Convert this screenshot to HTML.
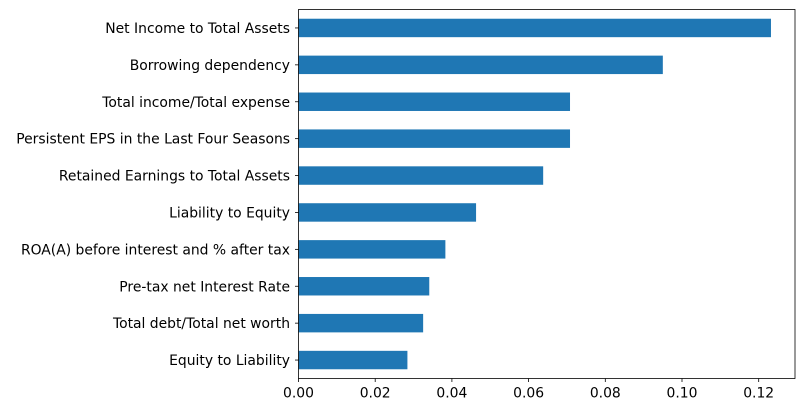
<!DOCTYPE html>
<html><head><meta charset="utf-8"><style>
html,body{margin:0;padding:0;background:#fff;}
svg{display:block;font-family:"DejaVu Sans","Liberation Sans",sans-serif;}
text{white-space:pre;}
</style></head><body>
<svg id="chart" width="810" height="407" viewBox="0 0 810 407" xmlns="http://www.w3.org/2000/svg"></svg>
<script>
const categories = [" Net Income to Total Assets"," Borrowing dependency"," Total income/Total expense"," Persistent EPS in the Last Four Seasons"," Retained Earnings to Total Assets"," Liability to Equity"," ROA(A) before interest and % after tax"," Pre-tax net Interest Rate"," Total debt/Total net worth"," Equity to Liability"];
const values = [0.1232,0.0950,0.0708,0.0708,0.0638,0.0463,0.0383,0.0341,0.0325,0.0284];
const xTicks = [0,0.02,0.04,0.06,0.08,0.10,0.12];
const xTickLabels = ["0.00","0.02","0.04","0.06","0.08","0.10","0.12"];

const NS="http://www.w3.org/2000/svg";
const svg=document.getElementById('chart');
const L=298.5,R=795,T=9.5,B=378.5;
const xMax=(R-L)/3835;
function xs(v){return L+v/xMax*(R-L);}
const step=(B-T)/categories.length;
function yc(i){return T+(i+0.5)*step;}
function mk(tag,attrs){const e=document.createElementNS(NS,tag);for(const k in attrs)e.setAttribute(k,attrs[k]);svg.appendChild(e);return e;}

values.forEach((v,i)=>{
  const r=mk('rect',{x:xs(0),y:yc(i)-step*0.25,width:xs(v)-xs(0),height:step*0.5,fill:'#1f77b4'});
  
  
});
categories.forEach((c,i)=>{
  const tk=mk('line',{x1:L-3.5,x2:L,y1:yc(i),y2:yc(i),stroke:'#000','stroke-width':0.8});
  
  
  const t=mk('text',{x:L-8.5,y:yc(i)+5,'text-anchor':'end','font-size':'13.9px',fill:'#000'});
  
  
  t.textContent=c;
});
xTicks.forEach((v,i)=>{
  const tk=mk('line',{x1:xs(v),x2:xs(v),y1:B,y2:B+3.5,stroke:'#000','stroke-width':0.8});
  
  
  const t=mk('text',{x:xs(v),y:B+19,'text-anchor':'middle','font-size':'13.9px',fill:'#000'});
  
  
  t.textContent=xTickLabels[i];
});
const fr=mk('rect',{x:L,y:T,width:R-L,height:B-T,fill:'none',stroke:'#000','stroke-width':0.8});


</script>
</body></html>
